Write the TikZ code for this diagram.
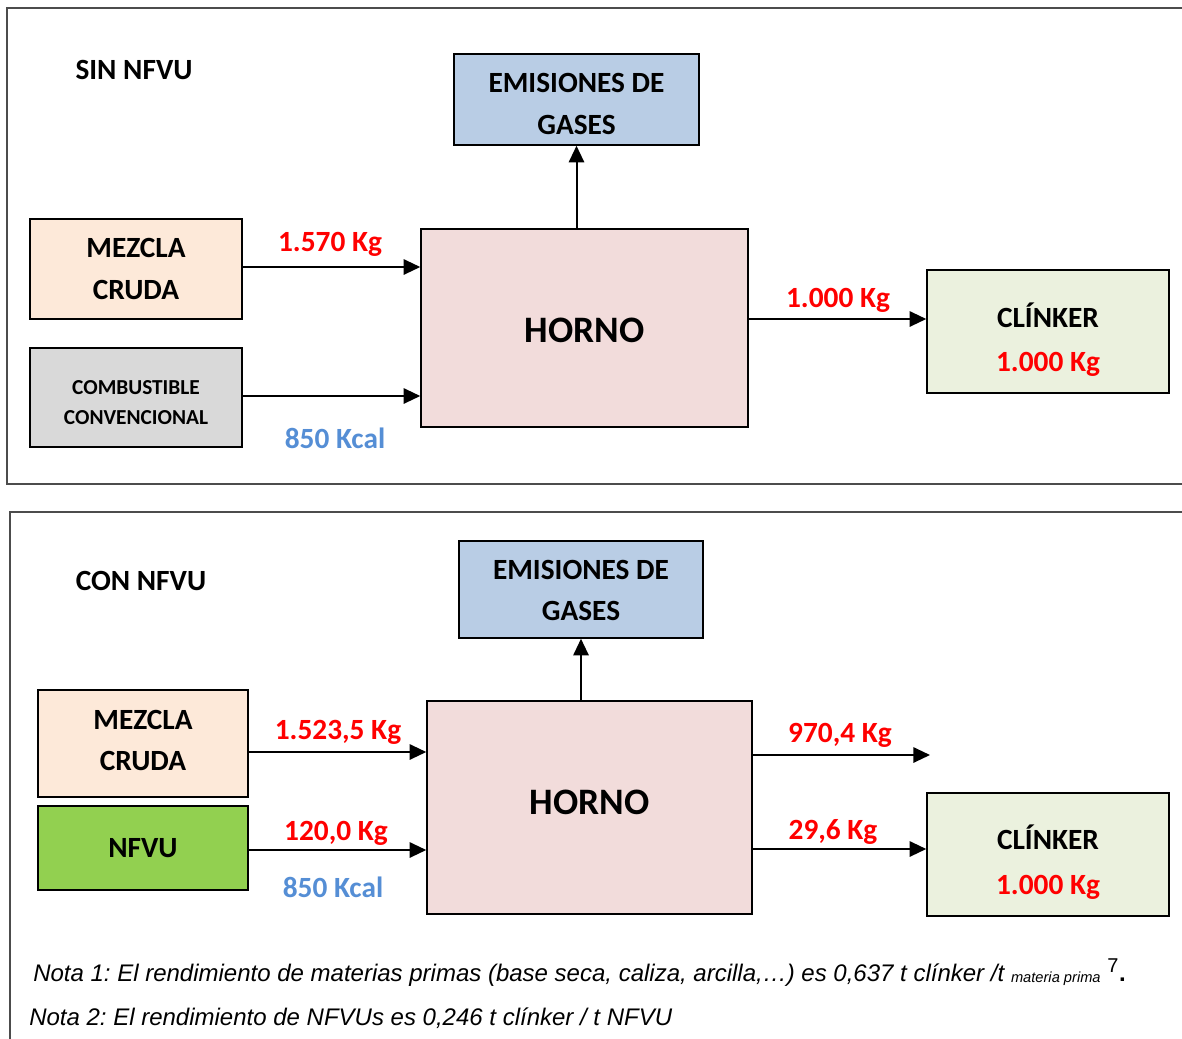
\documentclass[tikz,border=0pt]{standalone}
\usepackage{fontspec}
\setmainfont{Carlito}
\newfontfamily\notafont{Liberation Sans}
\usetikzlibrary{arrows.meta}
\definecolor{azulgas}{HTML}{B9CDE5}
\definecolor{melocoton}{HTML}{FDE9D9}
\definecolor{grisclaro}{HTML}{D9D9D9}
\definecolor{rosahorno}{HTML}{F2DCDB}
\definecolor{verdeclaro}{HTML}{EBF1DE}
\definecolor{verdenfvu}{HTML}{92D050}
\definecolor{azulkcal}{HTML}{558ED5}
\definecolor{rojokg}{HTML}{FF0000}
% first baseline of the text, raised by #1 from the centre of the box
\newcommand{\rotulo}[2]{\raisebox{#1}[0pt][0pt]{\begin{tabular}[t]{@{}c@{}}#2\end{tabular}}}
\tikzset{
  caja/.style={draw,line width=1.1pt,inner sep=0pt,font=\fontsize{22}{31.5}\selectfont\bfseries},
  titulo/.style={font=\fontsize{22}{26}\selectfont\bfseries},
  kg/.style={text=rojokg,font=\fontsize{22}{26}\selectfont\bfseries},
  kcal/.style={text=azulkcal,font=\fontsize{22}{26}\selectfont\bfseries},
  flujo/.style={line width=1.5pt,-{Triangle[length=12.5pt,width=11.5pt]}},
  marco/.style={draw=black!70,line width=1.1pt},
  nota/.style={anchor=base west,inner sep=0pt,font=\notafont\itshape\fontsize{18}{21}\selectfont}
}
\begin{document}
\frenchspacing
\begin{tikzpicture}[x=0.75pt,y=-0.75pt]
    \useasboundingbox (0,0) rectangle (1182,1039);
    \draw[marco] (7,8) rectangle (1195,484);
    \draw[marco] (10,512) rectangle (1195,1050);
    %
    \node[titulo] (sin) at (134,70) {SIN NFVU};
    \node[caja,fill=azulgas,minimum width=183.75pt,minimum height=68.25pt] (gas1) at (576.5,99.5) {\rotulo{5.25pt}{EMISIONES DE\\GASES}};
    \node[caja,fill=melocoton,minimum width=159pt,minimum height=75pt] (mez1) at (136,269) {\rotulo{8.6pt}{MEZCLA\\CRUDA}};
    \node[caja,fill=grisclaro,minimum width=159pt,minimum height=74.25pt,font=\fontsize{16}{22.5}\selectfont\bfseries] (comb) at (136,397.5) {\rotulo{2.6pt}{COMBUSTIBLE\\CONVENCIONAL}};
    \node[caja,fill=rosahorno,minimum width=245.25pt,minimum height=148.5pt,font=\fontsize{28}{34}\selectfont\bfseries] (horno1) at (584.5,328) {\rotulo{-10.5pt}{HORNO}};
    \node[caja,fill=verdeclaro,minimum width=181.5pt,minimum height=92.25pt,font=\fontsize{22}{33}\selectfont\bfseries] (clk1) at (1048,331.5) {\rotulo{3pt}{CLÍNKER\\\textcolor{rojokg}{1.000 Kg}}};
    \draw[flujo] (mez1.east |- 0,267) -- (horno1.west |- 0,267);
    \draw[flujo] (comb.east |- 0,396) -- (horno1.west |- 0,396);
    \draw[flujo] (gas1.south |- horno1.north) -- (gas1.south);
    \draw[flujo] (horno1.east |- 0,319) -- (clk1.west |- 0,319);
    \node[kg] (kmez1) at (330,244) {1.570 Kg};
    \node[kcal] (kcal1) at (335,438) {850 Kcal};
    \node[kg] (kclk1) at (838,300) {1.000 Kg};
    %
    \node[titulo] (con) at (141,581) {CON NFVU};
    \node[caja,fill=azulgas,minimum width=183pt,minimum height=72.75pt,font=\fontsize{22}{30.75}\selectfont\bfseries] (gas2) at (581,589.5) {\rotulo{7.5pt}{EMISIONES DE\\GASES}};
    \node[caja,fill=melocoton,minimum width=157.5pt,minimum height=80.25pt,font=\fontsize{22}{30.75}\selectfont\bfseries] (mez2) at (143,743.5) {\rotulo{10.5pt}{MEZCLA\\CRUDA}};
    \node[caja,fill=verdenfvu,minimum width=157.5pt,minimum height=63pt] (nfvu) at (143,848) {\rotulo{-7.1pt}{NFVU}};
    \node[caja,fill=rosahorno,minimum width=243.75pt,minimum height=159.75pt,font=\fontsize{28}{34}\selectfont\bfseries] (horno2) at (589.5,807.5) {\rotulo{-4.9pt}{HORNO}};
    \node[caja,fill=verdeclaro,minimum width=181.5pt,minimum height=92.25pt,font=\fontsize{22}{33.75}\selectfont\bfseries] (clk2) at (1048,854.5) {\rotulo{3.75pt}{CLÍNKER\\\textcolor{rojokg}{1.000 Kg}}};
    \coordinate (salida) at (930,755);
    \draw[flujo] (mez2.east |- 0,752) -- (horno2.west |- 0,752);
    \draw[flujo] (nfvu.east |- 0,850) -- (horno2.west |- 0,850);
    \draw[flujo] (gas2.south |- horno2.north) -- (gas2.south);
    \draw[flujo] (horno2.east |- salida) -- (salida);
    \draw[flujo] (horno2.east |- 0,849) -- (clk2.west |- 0,849);
    \node[kg] (kmez2) at (338,732) {1.523,5 Kg};
    \node[kg] (knfvu) at (336,833) {120,0 Kg};
    \node[kcal] (kcal2) at (333,887) {850 Kcal};
    \node[kg] (ksal) at (840,735) {970,4 Kg};
    \node[kg] (kclk2) at (833,832) {29,6 Kg};
    %
    \node[nota] (nota1) at (33,981) {Nota 1: El rendimiento de materias primas (base seca, caliza, arcilla,\ldots) es 0,637 t clínker /t \raisebox{-1pt}{\fontsize{11}{12}\selectfont materia prima} \textsuperscript{\upshape\fontsize{15}{15}\selectfont 7}\textup{\textbf{.}}};
    \node[nota] (nota2) at (29,1025) {Nota 2: El rendimiento de NFVUs es 0,246 t clínker / t NFVU};
\end{tikzpicture}
\end{document}
